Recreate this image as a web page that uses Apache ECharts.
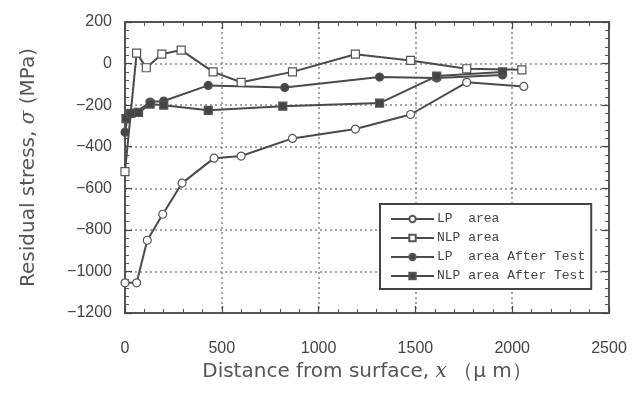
<!DOCTYPE html>
<html><head><meta charset="utf-8">
<script src="https://cdn.jsdelivr.net/npm/echarts@6/dist/echarts.min.js"></script>
<style>html,body{margin:0;padding:0;background:#fff}#c{width:637px;height:396px}</style>
</head><body><div id="c"></div>
<script>
const seriesNames = ['LP  area', 'NLP area', 'LP  area After Test', 'NLP area After Test'];
const lpArea = [[0,-1055],[60,-1055],[115,-850],[195,-725],[295,-575],[460,-455],[600,-445],[865,-360],[1190,-315],[1475,-245],[1765,-90],[2060,-110]];
const nlpArea = [[0,-520],[60,50],[110,-20],[190,45],[290,65],[455,-40],[600,-90],[865,-40],[1190,45],[1475,15],[1765,-25],[2050,-30]];
const lpAfter = [[0,-330],[15,-250],[55,-235],[130,-185],[200,-180],[430,-105],[825,-115],[1315,-65],[1610,-70],[1950,-55]];
const nlpAfter = [[5,-265],[30,-240],[70,-235],[130,-195],[200,-200],[430,-225],[815,-205],[1315,-190],[1610,-60],[1950,-40]];
const xTicks = {min:0, max:2500, interval:500};
const yTicks = {min:-1200, max:200, interval:200};

const chart = echarts.init(document.getElementById('c'));
const lineCol = '#4a4a4a';
const fmt = v => String(v).replace('-', '\u2212');
function axisCommon(){ return {
  axisLine:{show:true, onZero:false, lineStyle:{color:'#555', width:2}},
  axisTick:{show:true, inside:true, length:7, lineStyle:{color:'#444', width:1.2}},
  minorTick:{show:true, splitNumber:5, length:4, lineStyle:{color:'#555', width:1}},
};}
function mk(name, data, symbol, filled){
  return {name, type:'line', data, symbol, symbolSize: 8,
    lineStyle:{color:lineCol, width:2},
    itemStyle:{color: filled ? '#444' : '#fff', borderColor:'#555', borderWidth:1.2},
    emphasis:{disabled:true}, animation:false, z: filled ? 3 : 4};
}
const nameRich = {n:{fontFamily:'DejaVu Sans', fontSize:20, color:'#555'}, i:{fontFamily:'DejaVu Serif', fontStyle:'italic', fontSize:20, color:'#555'}};
chart.setOption({
  animation:false,
  grid:{left:125, right:28, top:22, bottom:83, show:false},
  xAxis:[
    Object.assign({type:'value', position:'bottom', min:xTicks.min, max:xTicks.max, interval:xTicks.interval,
      name:'{n|Distance from surface, }{i|x}{n| （μ m）}', nameLocation:'middle', nameGap:46,
      nameTextStyle:{rich:nameRich},
      axisLabel:{margin:28, fontFamily:'Liberation Sans', fontSize:16, color:'#444', formatter:fmt},
      splitLine:{show:true, lineStyle:{color:'#888', type:[2,3], width:1.5}}}, axisCommon()),
    Object.assign({type:'value', position:'top', min:xTicks.min, max:xTicks.max, interval:xTicks.interval,
      axisLabel:{show:false}, splitLine:{show:false}}, axisCommon())
  ],
  yAxis:[
    Object.assign({type:'value', position:'left', min:yTicks.min, max:yTicks.max, interval:yTicks.interval,
      name:'{n|Residual stress, }{i|σ}{n| (MPa)}', nameLocation:'middle', nameGap:86, nameRotate:90,
      nameTextStyle:{rich:nameRich},
      axisLabel:{margin:13, fontFamily:'Liberation Sans', fontSize:16, color:'#444', formatter:fmt},
      splitLine:{show:true, lineStyle:{color:'#888', type:[2,3], width:1.5}}}, axisCommon()),
    Object.assign({type:'value', position:'right', min:yTicks.min, max:yTicks.max, interval:yTicks.interval,
      axisLabel:{show:false}, splitLine:{show:false}}, axisCommon())
  ],
  legend:{show:true, orient:'vertical', left:380, top:204, padding:[8,6,6,10],
    backgroundColor:'#fff', borderColor:'#444', borderWidth:2,
    itemWidth:43, itemHeight:8, itemGap:5, selectedMode:false,
    textStyle:{fontFamily:'Liberation Mono', fontSize:13, color:'#444', lineHeight:14, padding:[0,0,0,-2]},
    data:seriesNames},
  series:[
    mk(seriesNames[0], lpArea, 'circle', false),
    mk(seriesNames[1], nlpArea, 'rect', false),
    mk(seriesNames[2], lpAfter, 'circle', true),
    mk(seriesNames[3], nlpAfter, 'rect', true)
  ]
});
</script></body></html>
